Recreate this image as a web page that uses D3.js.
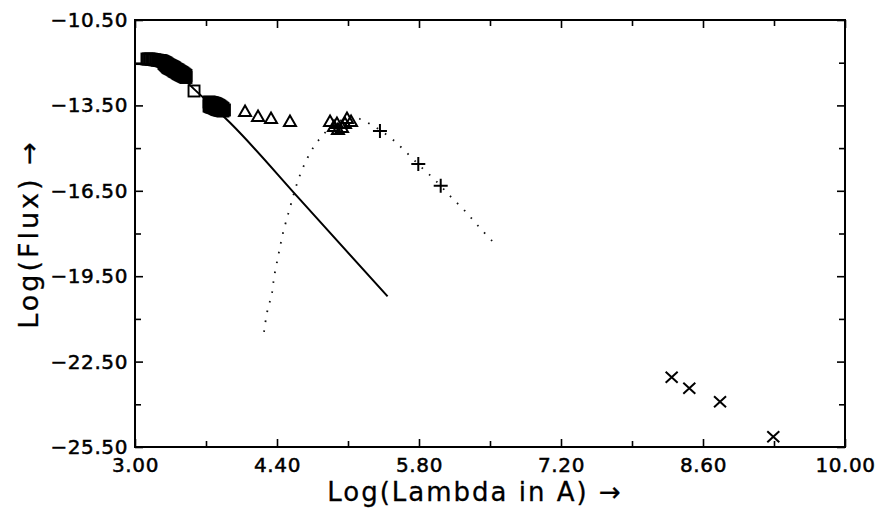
<!DOCTYPE html>
<html><head><meta charset="utf-8">
<script src="https://cdn.jsdelivr.net/npm/d3@7"></script>
<style>body{margin:0;background:#fff}svg{display:block}</style>
</head><body><svg id="c" width="875" height="515"></svg>
<script>
// ---- data ----
const xMajorTicks = [3.0, 4.4, 5.8, 7.2, 8.6, 10.0];
const xMinorTicks = [3.7, 5.1, 6.5, 7.9, 9.3];
const yMajorTicks = [-10.5, -13.5, -16.5, -19.5, -22.5, -25.5];
const yMinorTicks = [-12.0, -15.0, -18.0, -21.0, -24.0];

// solid model curve
const solidX = [3.00, 3.15, 3.30, 3.44, 3.58, 3.94, 4.63, 5.49];
const solidY = [-12.05, -12.06, -12.19, -12.45, -12.92, -14.12, -16.82, -20.21];

// dotted model curve
const dotX = [4.272, 4.301, 4.326, 4.351, 4.370, 4.400, 4.430, 4.459, 4.499, 4.538, 4.577, 4.627, 4.686, 4.755, 4.834, 4.923, 5.021, 5.120, 5.218, 5.317, 5.415, 5.534, 5.662, 5.810, 5.958, 6.106, 6.253, 6.401, 6.539];
const dotY = [-21.459, -20.792, -20.440, -20.089, -19.562, -19.000, -18.473, -17.982, -17.455, -16.963, -16.471, -15.944, -15.453, -14.996, -14.617, -14.293, -14.048, -13.907, -13.977, -14.153, -14.364, -14.680, -15.101, -15.628, -16.120, -16.682, -17.209, -17.806, -18.333];

// squares
const squareX = [3.118, 3.133, 3.148, 3.163, 3.177, 3.192, 3.207, 3.222, 3.237, 3.246, 3.256, 3.266, 3.276, 3.286, 3.286, 3.296, 3.296, 3.306, 3.306, 3.316, 3.316, 3.325, 3.325, 3.335, 3.335, 3.345, 3.345, 3.355, 3.355, 3.365, 3.365, 3.375, 3.375, 3.385, 3.385, 3.394, 3.394, 3.404, 3.404, 3.414, 3.414, 3.424, 3.424, 3.434, 3.434, 3.444, 3.444, 3.453, 3.453, 3.463, 3.463, 3.473, 3.473, 3.483, 3.483, 3.493, 3.493, 3.503, 3.503,
  3.582,
  3.730, 3.730, 3.740, 3.740, 3.750, 3.750, 3.760, 3.760, 3.769, 3.769, 3.779, 3.779, 3.789, 3.789, 3.799, 3.799, 3.808, 3.808, 3.818, 3.818, 3.828, 3.828, 3.838, 3.838, 3.848, 3.848, 3.858, 3.858, 3.868, 3.868, 3.882];
const squareY = [-11.870, -11.870, -11.870, -11.878, -11.887, -11.896, -11.905, -11.914, -11.923, -11.923, -11.932, -11.940, -11.958, -11.975, -12.028, -11.992, -12.063, -12.010, -12.098, -12.036, -12.133, -12.063, -12.168, -12.080, -12.186, -12.098, -12.204, -12.116, -12.221, -12.133, -12.239, -12.150, -12.265, -12.168, -12.291, -12.195, -12.309, -12.221, -12.326, -12.239, -12.352, -12.256, -12.379, -12.282, -12.397, -12.309, -12.414, -12.326, -12.432, -12.344, -12.449, -12.370, -12.467, -12.397, -12.485, -12.423, -12.502, -12.449, -12.520,
  -12.994,
  -13.380, -13.521, -13.389, -13.538, -13.398, -13.556, -13.406, -13.565, -13.415, -13.573, -13.424, -13.591, -13.433, -13.609, -13.450, -13.626, -13.468, -13.644, -13.486, -13.652, -13.503, -13.661, -13.530, -13.670, -13.556, -13.679, -13.582, -13.688, -13.609, -13.696, -13.661];

// triangles
const triX = [4.085, 4.213, 4.341, 4.528, 4.923, 4.962, 5.001, 5.041, 5.070, 5.090, 5.130, 4.991];
const triY = [-13.696, -13.872, -13.942, -14.048, -14.048, -14.224, -14.329, -14.258, -14.118, -13.942, -14.048, -14.118];

// pluses
const plusX = [5.415, 5.793, 6.014];
const plusY = [-14.399, -15.558, -16.320];

// crosses
const crossX = [8.291, 8.465, 8.768, 9.293];
const crossY = [-23.050, -23.436, -23.907, -25.136];

// ---- chart ----
const svg = d3.select("#c");
const L = 135, R = 845, T = 20, B = 447;
const x = d3.scaleLinear().domain([3, 10]).range([L, R]);
const y = d3.scaleLinear().domain([-25.5, -10.5]).range([B, T]);
const fmt = d3.format(".2f");
const font = "DejaVu Sans, sans-serif";

function styleAxis(g) {
  g.select(".domain").remove();
  g.selectAll(".tick line").attr("stroke", "#000").attr("stroke-width", 1.6);
  g.selectAll(".tick text").attr("fill", "#000").attr("font-family", font)
    .attr("font-size", 20).attr("letter-spacing", 0.6)
    .attr("stroke", "#000").attr("stroke-width", 0.5);
}

// bottom
svg.append("g").attr("transform", `translate(0,${B})`)
  .call(d3.axisBottom(x).tickValues(xMajorTicks).tickSize(-8).tickSizeOuter(0).tickPadding(11).tickFormat(fmt))
  .call(styleAxis);
svg.append("g").attr("transform", `translate(0,${B})`)
  .call(d3.axisBottom(x).tickValues(xMinorTicks).tickSize(-6).tickSizeOuter(0).tickFormat(""))
  .call(styleAxis);
// top
svg.append("g").attr("transform", `translate(0,${T})`)
  .call(d3.axisTop(x).tickValues(xMajorTicks).tickSize(-8).tickSizeOuter(0).tickFormat(""))
  .call(styleAxis);
svg.append("g").attr("transform", `translate(0,${T})`)
  .call(d3.axisTop(x).tickValues(xMinorTicks).tickSize(-6).tickSizeOuter(0).tickFormat(""))
  .call(styleAxis);
// left
svg.append("g").attr("transform", `translate(${L},0)`)
  .call(d3.axisLeft(y).tickValues(yMajorTicks).tickSize(-8).tickSizeOuter(0).tickPadding(7).tickFormat(fmt))
  .call(styleAxis);
svg.append("g").attr("transform", `translate(${L},0)`)
  .call(d3.axisLeft(y).tickValues(yMinorTicks).tickSize(-6).tickSizeOuter(0).tickFormat(""))
  .call(styleAxis);
// right
svg.append("g").attr("transform", `translate(${R},0)`)
  .call(d3.axisRight(y).tickValues(yMajorTicks).tickSize(-8).tickSizeOuter(0).tickFormat(""))
  .call(styleAxis);
svg.append("g").attr("transform", `translate(${R},0)`)
  .call(d3.axisRight(y).tickValues(yMinorTicks).tickSize(-6).tickSizeOuter(0).tickFormat(""))
  .call(styleAxis);

// frame
svg.append("rect").attr("x", L).attr("y", T).attr("width", R - L).attr("height", B - T)
  .attr("fill", "none").attr("stroke", "#000").attr("stroke-width", 2);

// solid line
const solid = solidX.map((v, i) => [v, solidY[i]]);
svg.append("path").datum(solid)
  .attr("d", d3.line().x(d => x(d[0])).y(d => y(d[1])).curve(d3.curveMonotoneX))
  .attr("fill", "none").attr("stroke", "#000").attr("stroke-width", 2);

// dotted line
const dotted = dotX.map((v, i) => [v, dotY[i]]);
svg.append("path").datum(dotted)
  .attr("d", d3.line().x(d => x(d[0])).y(d => y(d[1])).curve(d3.curveCatmullRom))
  .attr("fill", "none").attr("stroke", "#111").attr("stroke-width", 1.8)
  .attr("stroke-dasharray", "1.6,8.4");

// squares
const sq = squareX.map((v, i) => [v, squareY[i]]);
svg.append("g").selectAll("rect").data(sq).join("rect")
  .attr("x", d => x(d[0]) - 5.5).attr("y", d => y(d[1]) - 5.5)
  .attr("width", 11).attr("height", 11)
  .attr("fill", "none").attr("stroke", "#000").attr("stroke-width", 1.9);

// triangles
const tri = triX.map((v, i) => [v, triY[i]]);
svg.append("g").selectAll("path").data(tri).join("path")
  .attr("transform", d => `translate(${x(d[0])},${y(d[1])})`)
  .attr("d", "M-6,5L6,5L0,-5.5Z")
  .attr("fill", "none").attr("stroke", "#000").attr("stroke-width", 2).attr("stroke-linejoin", "miter");

// pluses
const pl = plusX.map((v, i) => [v, plusY[i]]);
svg.append("g").selectAll("path").data(pl).join("path")
  .attr("transform", d => `translate(${x(d[0])},${y(d[1])})`)
  .attr("d", "M-7,0H7M0,-7V7")
  .attr("fill", "none").attr("stroke", "#000").attr("stroke-width", 2);

// crosses
const cr = crossX.map((v, i) => [v, crossY[i]]);
svg.append("g").selectAll("path").data(cr).join("path")
  .attr("transform", d => `translate(${x(d[0])},${y(d[1])})`)
  .attr("d", "M-6,-5.5L6,5.5M-6,5.5L6,-5.5")
  .attr("fill", "none").attr("stroke", "#000").attr("stroke-width", 2);

// axis titles
svg.append("text").attr("x", 475).attr("y", 501).attr("text-anchor", "middle")
  .attr("font-family", font).attr("font-size", 26).attr("letter-spacing", 2)
  .attr("fill", "#000").attr("stroke", "#000").attr("stroke-width", 0.3)
  .text("Log(Lambda in A) →");
svg.append("text").attr("transform", "translate(38,234) rotate(-90)").attr("text-anchor", "middle")
  .attr("font-family", font).attr("font-size", 27).attr("letter-spacing", 3)
  .attr("fill", "#000").attr("stroke", "#000").attr("stroke-width", 0.3)
  .text("Log(Flux) →");
</script></body></html>
